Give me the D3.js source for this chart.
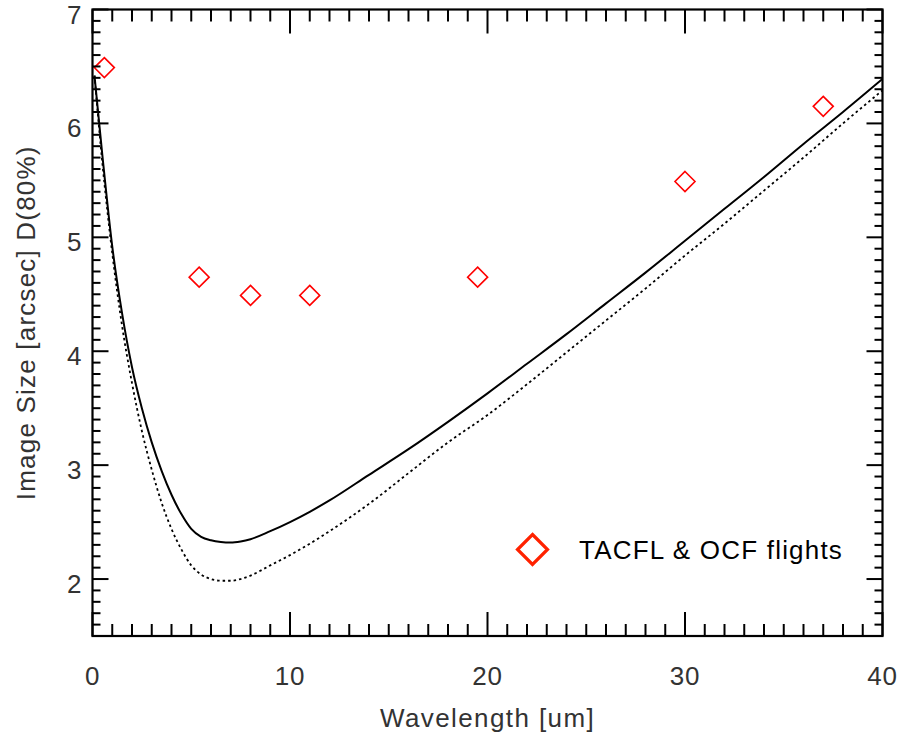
<!DOCTYPE html>
<html>
<head>
<meta charset="utf-8">
<script src="https://cdn.jsdelivr.net/npm/d3@7"></script>
<style>
  body { margin: 0; background: #fff; }
  text { font-family: "Liberation Sans", Arial, Helvetica, sans-serif; fill: #333; }
</style>
</head>
<body>
<script>
// model curves (wavelength in um, image size in arcsec)
const wavelength = [0.1, 0.5, 1, 1.5, 2, 2.5, 3, 3.5, 4, 4.5, 5, 5.5, 6, 6.5, 7, 7.5, 8, 9, 10, 11, 12,
  14, 16, 18, 20, 22, 24, 26, 28, 30, 32, 34, 36, 38, 40];
const solidSize = [6.42, 5.72, 4.92, 4.33, 3.86, 3.5, 3.2, 2.95, 2.74, 2.57, 2.44, 2.37, 2.34, 2.325, 2.32, 2.33, 2.35, 2.42, 2.5, 2.59, 2.69,
  2.915, 3.14, 3.38, 3.63, 3.89, 4.15, 4.42, 4.69, 4.97, 5.25, 5.53, 5.82, 6.1, 6.39];
const dottedSize = [6.42, 5.65, 4.86, 4.22, 3.72, 3.3, 2.96, 2.67, 2.44, 2.26, 2.12, 2.04, 2.0, 1.985, 1.985, 2.0, 2.03, 2.12, 2.21, 2.31, 2.42,
  2.66, 2.93, 3.2, 3.44, 3.71, 3.99, 4.27, 4.55, 4.84, 5.12, 5.41, 5.7, 6.0, 6.29];

// flight measurements
const flightWave = [0.6, 5.4, 8, 11, 19.5, 30, 37];
const flightSize = [6.49, 4.65, 4.49, 4.49, 4.65, 5.49, 6.15];

const xMajor = [0, 10, 20, 30, 40];
const yMajor = [2, 3, 4, 5, 6, 7];

const width = 898;
const height = 734;
const margin = { top: 9.5, right: 15.5, bottom: 98, left: 92.5 };
const plotW = width - margin.left - margin.right;
const plotH = height - margin.top - margin.bottom;

const svg = d3.select("body").append("svg")
  .attr("width", width)
  .attr("height", height);

const g = svg.append("g").attr("transform", `translate(${margin.left},${margin.top})`);

const x = d3.scaleLinear().domain([0, 40]).range([0, plotW]);
const y = d3.scaleLinear().domain([1.5, 7]).range([plotH, 0]);

svg.append("clipPath").attr("id", "plotclip")
  .append("rect").attr("width", plotW).attr("height", plotH);

// curves
const line = d3.line()
  .x((d, i) => x(wavelength[i]))
  .y(d => y(d))
  .curve(d3.curveMonotoneX);

const curves = g.append("g").attr("clip-path", "url(#plotclip)");

curves.append("path")
  .attr("d", line(dottedSize))
  .attr("fill", "none")
  .attr("stroke", "#000")
  .attr("stroke-width", 1.8)
  .attr("stroke-dasharray", "2.5,3");

curves.append("path")
  .attr("d", line(solidSize))
  .attr("fill", "none")
  .attr("stroke", "#000")
  .attr("stroke-width", 2);

// diamonds
const diamond = r => `M0,${-r}L${r},0L0,${r}L${-r},0Z`;

g.selectAll(".flight")
  .data(flightWave)
  .join("path")
  .attr("class", "flight")
  .attr("transform", (d, i) => `translate(${x(d)},${y(flightSize[i])})`)
  .attr("d", diamond(10))
  .attr("fill", "none")
  .attr("stroke", "#ff0000")
  .attr("stroke-width", 1.6);

// axes: ticks on all four sides
const xMinor = d3.range(0, 41, 1);
const yMinor = d3.range(15, 71, 1).map(v => v / 10);

function xTicks(ypos, dir) {
  g.append("g").selectAll("line")
    .data(xMinor)
    .join("line")
    .attr("x1", d => x(d)).attr("x2", d => x(d))
    .attr("y1", ypos)
    .attr("y2", d => ypos + dir * (d % 10 === 0 ? 24 : 12))
    .attr("stroke", "#000")
    .attr("stroke-width", 2);
}
function yTicks(xpos, dir) {
  g.append("g").selectAll("line")
    .data(yMinor)
    .join("line")
    .attr("y1", d => y(d)).attr("y2", d => y(d))
    .attr("x1", xpos)
    .attr("x2", d => xpos + dir * (Math.abs(d - Math.round(d)) < 1e-6 ? 16 : 8))
    .attr("stroke", "#000")
    .attr("stroke-width", 2);
}
xTicks(plotH, -1);
xTicks(0, 1);
yTicks(0, 1);
yTicks(plotW, -1);

g.append("rect")
  .attr("width", plotW)
  .attr("height", plotH)
  .attr("fill", "none")
  .attr("stroke", "#000")
  .attr("stroke-width", 2.2);

// tick labels
g.append("g").selectAll("text")
  .data(xMajor)
  .join("text")
  .attr("x", d => x(d))
  .attr("y", plotH + 49)
  .attr("text-anchor", "middle")
  .attr("font-size", 26)
  .attr("letter-spacing", 0.8)
  .text(d => d);

g.append("g").selectAll("text")
  .data(yMajor)
  .join("text")
  .attr("x", -11)
  .attr("y", d => y(d) + 14)
  .attr("text-anchor", "end")
  .attr("font-size", 26)
  .text(d => d);

// axis titles
svg.append("text")
  .attr("x", margin.left + plotW / 2)
  .attr("y", 727)
  .attr("text-anchor", "middle")
  .attr("font-size", 26)
  .attr("letter-spacing", 1.4)
  .text("Wavelength [um]");

svg.append("text")
  .attr("transform", `translate(35,${margin.top + plotH / 2}) rotate(-90)`)
  .attr("text-anchor", "middle")
  .attr("font-size", 26)
  .attr("letter-spacing", 1.2)
  .text("Image Size [arcsec] D(80%)");

// legend
const legend = svg.append("g").attr("transform", "translate(532.5,549.5)");
legend.append("path")
  .attr("d", diamond(15))
  .attr("fill", "none")
  .attr("stroke", "#ff2200")
  .attr("stroke-width", 3.2);
legend.append("text")
  .attr("x", 46.5)
  .attr("y", 9)
  .attr("font-size", 26)
  .attr("letter-spacing", 1.2)
  .style("fill", "#000")
  .text("TACFL & OCF flights");
</script>
</body>
</html>
